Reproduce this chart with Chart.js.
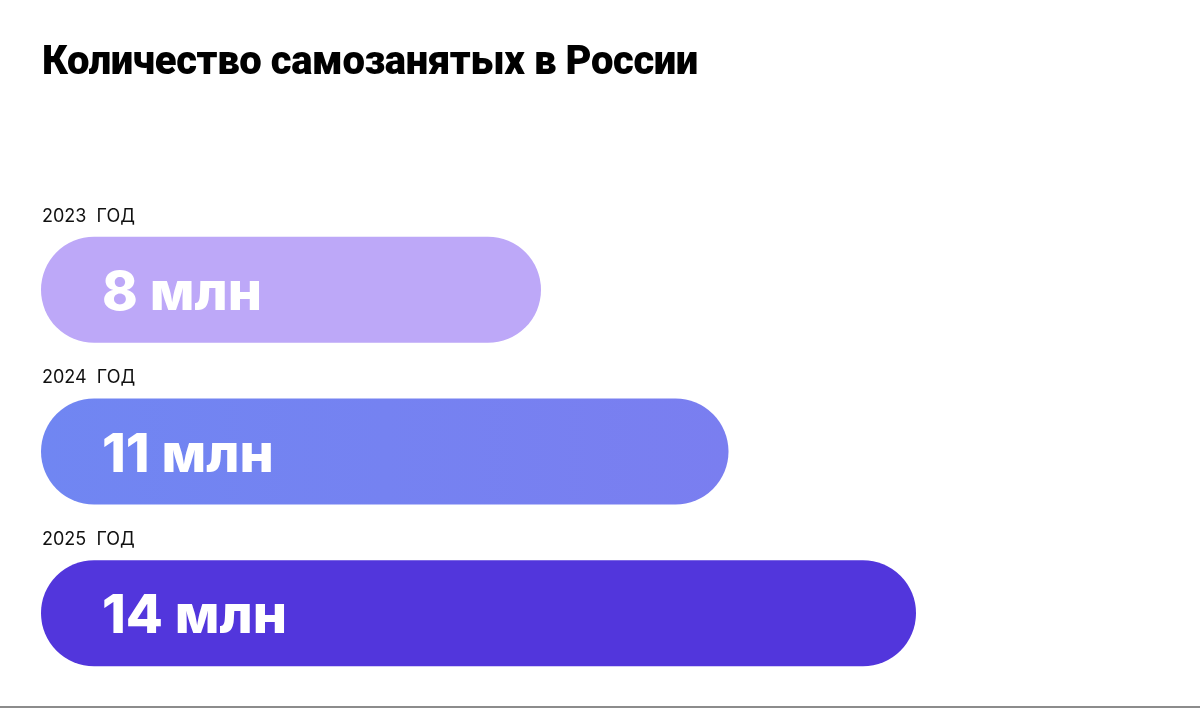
<!DOCTYPE html>
<html lang="ru">
<head>
<meta charset="utf-8">
<title>Количество самозанятых в России</title>
<script src="https://cdn.jsdelivr.net/npm/chart.js@4/dist/chart.umd.min.js"></script>
<style>
  html, body { margin: 0; padding: 0; background: #fff; }
  .wrap { position: relative; width: 1200px; height: 708px; overflow: hidden; }
  h1 {
    position: absolute; left: 42px; top: 37px; margin: 0;
    font-family: Roboto, sans-serif; font-weight: 900; font-size: 40px;
    letter-spacing: -0.4px; color: #000;
  }
  .bottom-line { position: absolute; left: 0; right: 0; bottom: 0; height: 2px; background: #8c8c8c; }
  canvas { position: absolute; left: 0; top: 0; }
</style>
</head>
<body>
<div class="wrap">
  <canvas id="chart" width="1200" height="708"></canvas>
  <h1>Количество самозанятых в России</h1>
  <div class="bottom-line"></div>
</div>
<script>
// Данные
const years = ['2023', '2024', '2025'];
const yearLabels = ['2023  ГОД', '2024  ГОД', '2025  ГОД'];
const values = [8, 11, 14];
const valueLabels = ['8 млн', '11 млн', '14 млн'];
const barColors = ['#bda8f8', ['#7086f2', '#7a7ef0'], '#5236dc'];

// подписи года над столбцом и значение внутри столбца
const labelsPlugin = {
  id: 'barLabels',
  afterDatasetsDraw(chart) {
    const ctx = chart.ctx;
    const meta = chart.getDatasetMeta(0);
    ctx.save();
    meta.data.forEach((bar, i) => {
      const top = bar.y - bar.height / 2;
      ctx.fillStyle = '#111';
      ctx.font = '400 18px Inter, sans-serif';
      ctx.textBaseline = 'alphabetic';
      ctx.textAlign = 'left';
      ctx.fillText(yearLabels[i], 42, top - 15);

      ctx.fillStyle = '#fff';
      ctx.font = '800 54px Inter, sans-serif';
      ctx.textBaseline = 'middle';
      ctx.fillText(valueLabels[i], bar.base + 61, bar.y + 4);
    });
    ctx.restore();
  }
};

function barColor(context) {
  const c = barColors[context.dataIndex];
  if (!Array.isArray(c)) return c;
  const area = context.chart.chartArea;
  if (!area) return c[0];
  const g = context.chart.ctx.createLinearGradient(area.left, 0, context.chart.scales.x.getPixelForValue(values[context.dataIndex]), 0);
  g.addColorStop(0, c[0]);
  g.addColorStop(1, c[1]);
  return g;
}

const chart = new Chart(document.getElementById('chart'), {
  type: 'bar',
  data: {
    labels: years,
    datasets: [{
      data: values,
      backgroundColor: barColor,
      borderRadius: 53,
      borderSkipped: false,
      categoryPercentage: 1,
      barPercentage: 0.656
    }]
  },
  options: {
    indexAxis: 'y',
    responsive: false,
    animation: false,
    layout: { padding: { left: 41, right: 34, top: 209, bottom: 14 } },
    scales: {
      x: { display: false, min: 0, max: 18 },
      y: { display: false }
    },
    plugins: {
      legend: { display: false },
      tooltip: { enabled: false }
    }
  },
  plugins: [labelsPlugin]
});
</script>
</body>
</html>
